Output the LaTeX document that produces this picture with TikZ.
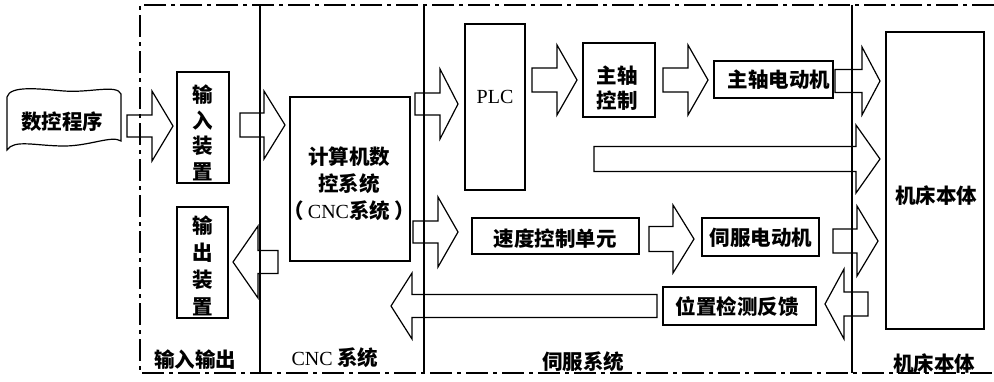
\documentclass[tikz,border=0pt]{standalone}
\usepackage{fontspec}
\setmainfont{Liberation Serif}
\newfontfamily\cjk{Noto Sans CJK SC}
\newcommand{\blockarr}[6]{\draw[barrow] (#1,#4-#5) -- (#2,#4-#5) -- (#2,#4-#6) -- (#3,#4) -- (#2,#4+#6) -- (#2,#4+#5) -- (#1,#4+#5) -- cycle;}
\tikzset{
  frame/.style={line width=1.3pt, dash pattern=on 22pt off 5pt on 4pt off 5pt},
  divider/.style={line width=1.2pt},
  box/.style={draw, line width=1.2pt, inner sep=0pt, rectangle},
  barrow/.style={draw, line width=1.2pt, line join=miter},
  zh/.style={inner sep=0pt, align=center, font=\fontsize{20.5}{26}\selectfont\cjk\bfseries},
}
\begin{document}
\begin{tikzpicture}[x=1pt,y=-1pt]
\useasboundingbox (0,0) rectangle (994,381);
% frame and dividers
\draw[frame] (994,5) -- (140,5) -- (140,373) -- (994,373);
\draw[divider] (260,5) -- (260,373);
\draw[divider] (424,5) -- (424,373);
\draw[divider] (852,5) -- (852,373);
% program tape
\draw[line width=1.2pt] (7,97) .. controls (10,85) and (40,89) .. (64,91) .. controls (90,93) and (117,84) .. (121,94) -- (121,141) .. controls (112,135) and (90,146) .. (64,146) .. controls (36,146) and (14,139) .. (7,150) -- cycle;
\node[zh] (prog) at (62,122) {数控程序};
% boxes
\node[box, minimum width=52pt, minimum height=111pt] (in) at (203,127.5) {};
\node[zh, font=\fontsize{20.5}{25.7}\selectfont\cjk\bfseries] (intx) at (203,133) {输\\入\\装\\置};
\node[box, minimum width=51pt, minimum height=111pt] (out) at (202.5,262.5) {};
\node[zh, font=\fontsize{20.5}{27}\selectfont\cjk\bfseries] (outtx) at (203,266) {输\\出\\装\\置};
\node[box, minimum width=120pt, minimum height=164pt] (cnc) at (350,179) {};
\node[zh, font=\fontsize{20.5}{27}\selectfont\cjk\bfseries] (cnctx) at (349,184) {计算机数\\控系统\\（\hspace{4pt}{\rmfamily\mdseries\fontsize{20}{24}\selectfont CNC}系统\hspace{4pt}）};
\node[box, minimum width=60pt, minimum height=166pt] (plc) at (495,107) {};
\node[inner sep=0pt, font=\fontsize{20}{24}\selectfont] (plctx) at (495,97) {PLC};
\node[box, minimum width=72pt, minimum height=74pt] (spc) at (619,80) {};
\node[zh, font=\fontsize{20.5}{25}\selectfont\cjk\bfseries] (spctx) at (617,88) {主轴\\控制};
\node[box, minimum width=119pt, minimum height=37pt] (spm) at (773.5,79.5) {};
\node[zh] (spmtx) at (779,80) {主轴电动机};
\node[box, minimum width=167pt, minimum height=36pt] (spd) at (555.5,236) {};
\node[zh] (spdtx) at (555,239) {速度控制单元};
\node[box, minimum width=117pt, minimum height=38pt] (svm) at (760.5,237) {};
\node[zh] (svmtx) at (761,238) {伺服电动机};
\node[box, minimum width=153pt, minimum height=38pt] (pos) at (739.5,306) {};
\node[zh] (postx) at (737,307) {位置检测反馈};
\node[box, minimum width=98pt, minimum height=297pt] (mach) at (935,180.5) {};
\node[zh] (machtx) at (936,196) {机床本体};
% section labels
\node[zh] (lio) at (195,360) {输入输出};
\node[zh] (lcnc) at (335,358) {{\rmfamily\mdseries\fontsize{20}{24}\selectfont CNC} 系统};
\node[zh] (lsrv) at (583,362) {伺服系统};
\node[zh] (lmach) at (934,364) {机床本体};
% block arrows: start, head base, tip, y centre, shaft half, head half
\blockarr{127}{152}{173}{126}{11}{35}
\blockarr{240}{264}{285}{125}{12}{34}
\blockarr{415}{440}{458}{104}{11}{35}
\blockarr{532}{557}{577}{80}{12}{35}
\blockarr{663}{688}{708}{80}{12}{35}
\blockarr{835}{862}{880}{81}{11.5}{34}
\blockarr{594}{856}{880}{159}{12.5}{34}
\blockarr{413}{438}{458}{232}{11}{35}
\blockarr{649}{673}{694}{239}{12.5}{34}
\blockarr{833}{857}{878}{241}{12}{35}
\blockarr{868}{844}{825}{304}{12}{35}
\blockarr{657}{412}{391}{306}{11.5}{33}
\blockarr{278}{258}{233}{262}{11.5}{36}
\end{tikzpicture}
\end{document}
